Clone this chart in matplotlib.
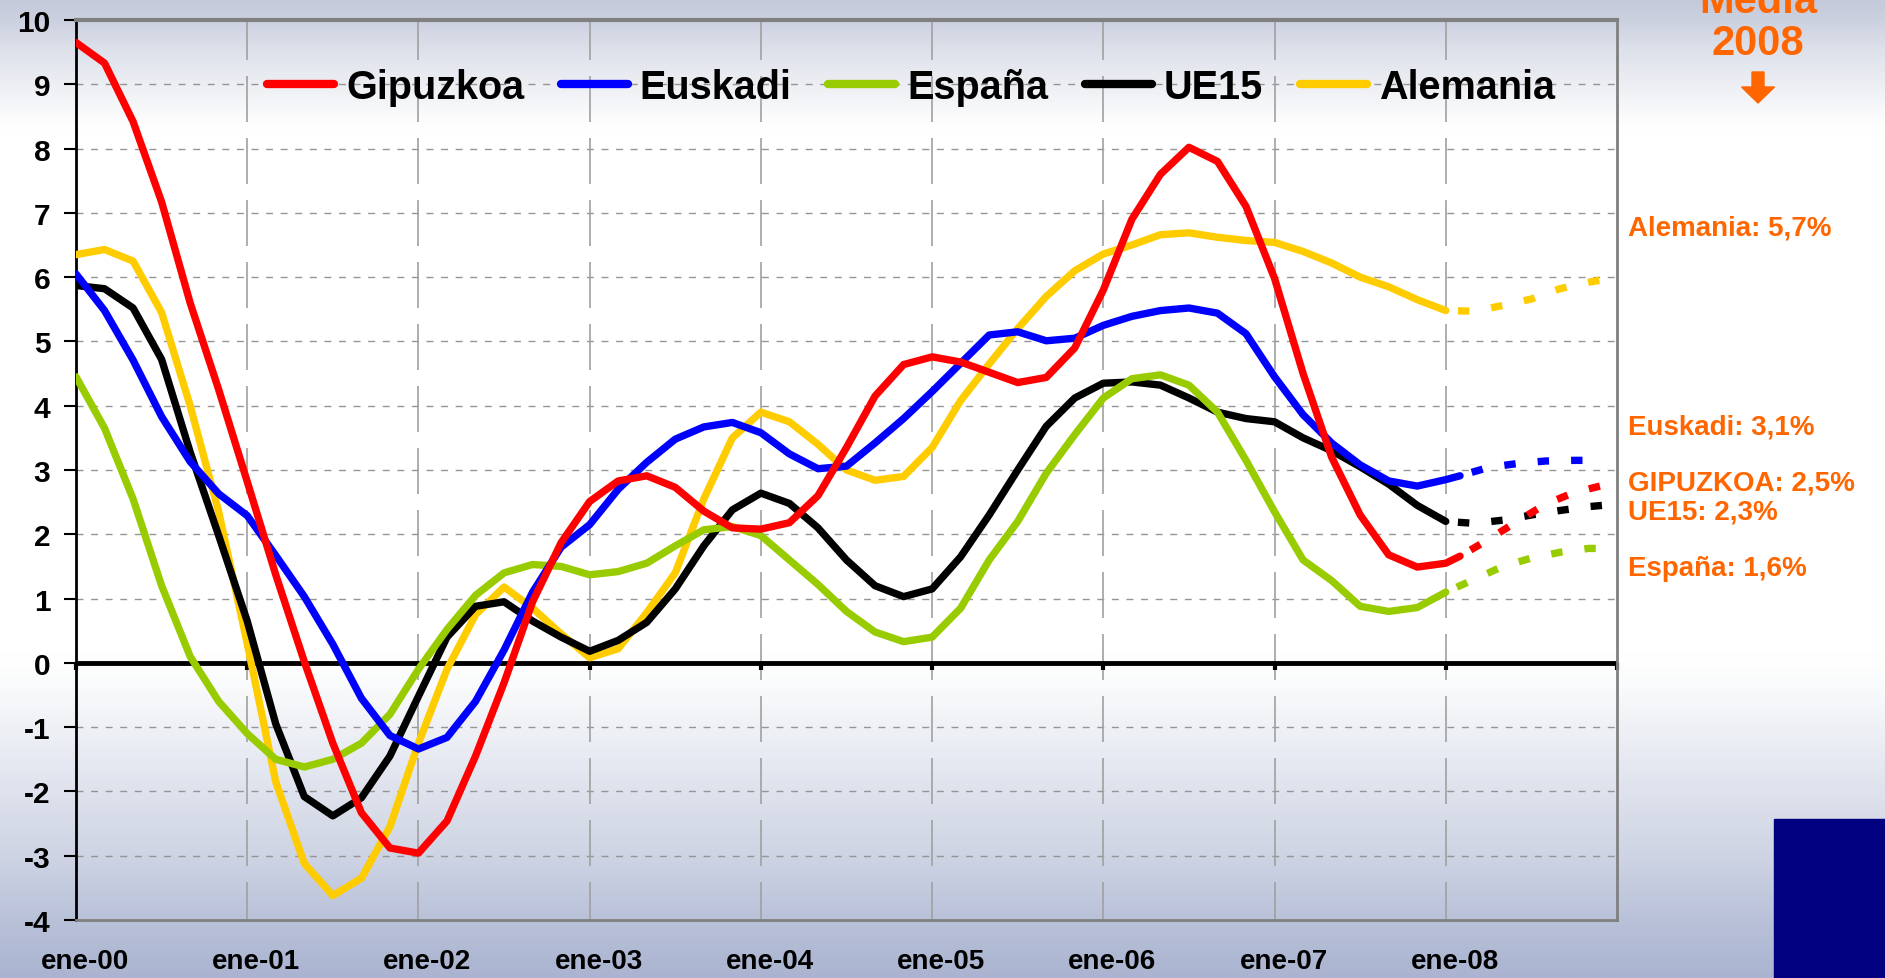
import numpy as np
import matplotlib.pyplot as plt
from matplotlib import markers
from matplotlib.colors import LinearSegmentedColormap
from matplotlib.patches import Rectangle, Polygon
from matplotlib.transforms import ScaledTranslation

plt.rcParams['font.family'] = ['Liberation Sans', 'DejaVu Sans']
plt.rcParams['font.weight'] = 'bold'
plt.rcParams['axes.unicode_minus'] = False

############################################################
# Datos (tasa de variación interanual, %), meses desde ene-00

meses = list(range(0, 97, 2))
meses_97 = meses + [97]

gipuzkoa = [9.65, 9.33, 8.42, 7.17, 5.6, 4.25, 2.82, 1.37, 0.02, -1.25,
            -2.33, -2.88, -2.96, -2.46, -1.45, -0.31, 0.95, 1.87, 2.51, 2.83,
            2.91, 2.73, 2.36, 2.1, 2.08, 2.18, 2.6, 3.35, 4.15, 4.64,
            4.76, 4.68, 4.52, 4.36, 4.44, 4.9, 5.8, 6.9, 7.6, 8.02,
            7.8, 7.1, 5.98, 4.5, 3.2, 2.3, 1.68, 1.49, 1.55, 1.66]
euskadi = [6.05, 5.48, 4.71, 3.83, 3.13, 2.63, 2.29, 1.67, 1.03, 0.29,
           -0.55, -1.13, -1.34, -1.16, -0.6, 0.2, 1.1, 1.8, 2.15, 2.7,
           3.12, 3.48, 3.67, 3.74, 3.58, 3.25, 3.02, 3.06, 3.42, 3.8,
           4.22, 4.66, 5.1, 5.15, 5.01, 5.05, 5.25, 5.39, 5.48, 5.52,
           5.44, 5.12, 4.45, 3.86, 3.42, 3.08, 2.83, 2.75, 2.85, 2.91]
espana = [4.45, 3.65, 2.55, 1.2, 0.1, -0.6, -1.1, -1.5, -1.62, -1.5,
          -1.25, -0.8, -0.1, 0.52, 1.05, 1.4, 1.53, 1.5, 1.37, 1.42,
          1.55, 1.82, 2.07, 2.12, 1.98, 1.6, 1.22, 0.8, 0.48, 0.33,
          0.4, 0.85, 1.6, 2.2, 2.95, 3.55, 4.12, 4.42, 4.48, 4.32,
          3.9, 3.15, 2.35, 1.6, 1.28, 0.88, 0.8, 0.86, 1.1]
ue15 = [5.87, 5.82, 5.52, 4.72, 3.28, 1.98, 0.65, -0.95, -2.08, -2.38,
        -2.1, -1.45, -0.52, 0.4, 0.88, 0.95, 0.65, 0.4, 0.18, 0.35,
        0.63, 1.15, 1.82, 2.38, 2.64, 2.48, 2.1, 1.6, 1.2, 1.03,
        1.15, 1.65, 2.3, 3.0, 3.68, 4.12, 4.35, 4.37, 4.32, 4.12,
        3.9, 3.8, 3.75, 3.5, 3.3, 3.05, 2.78, 2.45, 2.2]
alemania = [6.35, 6.43, 6.25, 5.45, 4.0, 2.35, 0.3, -1.85, -3.12, -3.62,
            -3.35, -2.55, -1.25, -0.1, 0.75, 1.18, 0.85, 0.45, 0.08, 0.22,
            0.78, 1.4, 2.55, 3.5, 3.9, 3.75, 3.4, 3.0, 2.84, 2.9,
            3.35, 4.08, 4.65, 5.2, 5.7, 6.1, 6.36, 6.5, 6.66, 6.69,
            6.62, 6.57, 6.54, 6.4, 6.22, 6.0, 5.85, 5.65, 5.48]

# Previsiones 2008 (tramo discontinuo)
meses_prev_97 = [97, 99, 101, 103, 105, 107]
meses_prev = [96, 98, 100, 102, 104, 106, 107]
gipuzkoa_prev = [1.66, 1.92, 2.2, 2.47, 2.65, 2.76]
euskadi_prev = [2.91, 3.04, 3.1, 3.14, 3.15, 3.15]
espana_prev = [1.1, 1.3, 1.5, 1.63, 1.72, 1.78, 1.78]
ue15_prev = [2.2, 2.17, 2.22, 2.3, 2.37, 2.43, 2.45]
alemania_prev = [5.48, 5.47, 5.56, 5.66, 5.82, 5.92, 5.96]

anos_ticks = list(range(0, 109, 12))
anos_labels = ['ene-00', 'ene-01', 'ene-02', 'ene-03', 'ene-04',
               'ene-05', 'ene-06', 'ene-07', 'ene-08', '']

medias = ['Alemania: 5,7%', 'Euskadi: 3,1%', 'GIPUZKOA: 2,5%',
          'UE15: 2,3%', 'España: 1,6%']
medias_y = [6.77, 3.68, 2.81, 2.36, 1.47]

############################################################
# Figura

naranja = '#FF6600'
fig = plt.figure(figsize=(18.85, 9.79), dpi=100)

# fondo degradado (posición = fracción desde arriba)
bg = fig.add_axes([0, 0, 1, 1], zorder=-10)
cmap = LinearSegmentedColormap.from_list('fondo', [
    (0.0, '#c5cadb'), (0.02, '#ccd1e0'), (0.05, '#dde1ea'), (0.1, '#f3f4f7'),
    (0.13, '#ffffff'), (0.67, '#ffffff'), (0.7, '#fafbfc'), (0.78, '#e6e9f1'),
    (0.88, '#cdd3e3'), (0.94, '#bac2d9'), (1.0, '#aab4d0')])
grad = np.linspace(0, 1, 512).reshape(-1, 1)
bg.imshow(grad, aspect='auto', cmap=cmap, extent=[0, 1, 0, 1])
bg.axis('off')

ax = fig.add_axes([76 / 1885, 1 - 921 / 979, (1617 - 76) / 1885, (921 - 21) / 979])
ax.patch.set_alpha(0)
ax.set_xlim(0, 108)
ax.set_ylim(-4, 10)

# rejilla
for y in range(-3, 10):
    if y != 0:
        ax.axhline(y, color='#959595', lw=1, ls=(0, (5, 5.5)), zorder=1)
for x in anos_ticks[1:-1]:
    ax.axvline(x, color='#a0a0a0', lw=1.2, ls=(4.8, (27.6, 9.6)), zorder=1)
ax.axhline(0, color='black', lw=3.5, zorder=2)
ax.plot(anos_ticks, [0] * len(anos_ticks), ls='none', marker=markers.TICKDOWN,
        ms=5, mew=3, color='black', zorder=2, clip_on=False)

lw = 5.3
series = [
    ('Gipuzkoa', '#FF0000', meses_97, gipuzkoa, meses_prev_97, gipuzkoa_prev),
    ('Euskadi', '#0000FF', meses_97, euskadi, meses_prev_97, euskadi_prev),
    ('España', '#99CC00', meses, espana, meses_prev, espana_prev),
    ('UE15', '#000000', meses, ue15, meses_prev, ue15_prev),
    ('Alemania', '#FFCC00', meses, alemania, meses_prev, alemania_prev),
]
for i, (nombre, col, xm, ym, xp, yp) in enumerate(series):
    ax.plot(xm, ym, color=col, lw=lw, label=nombre, zorder=5 - i * 0.1,
            solid_capstyle='round', solid_joinstyle='round')
    ax.plot(xp, yp, color=col, lw=lw, ls=(2.9, (1.55, 3.0)),
            dash_capstyle='butt', zorder=5 - i * 0.1)

# ejes
for s in ['top', 'right', 'bottom']:
    ax.spines[s].set_color('#808080')
ax.spines['top'].set_linewidth(3)
ax.spines['right'].set_linewidth(2)
ax.spines['bottom'].set_linewidth(2)
ax.spines['left'].set_color('black')
ax.spines['left'].set_linewidth(2)

ax.set_yticks(range(-4, 11))
ax.tick_params(axis='y', direction='out', length=8.5, width=1.5, pad=10,
               labelsize=21.5)
ax.set_xticks(anos_ticks)
ax.set_xticklabels(anos_labels)
ax.tick_params(axis='x', length=0, pad=20, labelsize=20)
for lab in ax.get_xticklabels():
    lab.set_transform(lab.get_transform() + ScaledTranslation(0.09, 0, fig.dpi_scale_trans))
for lab in ax.get_xticklabels() + ax.get_yticklabels():
    lab.set_fontweight('bold')

leg = ax.legend(loc='center left', bbox_to_anchor=(267 / 1885, 1 - 88 / 979),
                bbox_transform=fig.transFigure, ncol=5, frameon=False,
                prop={'size': 28.5, 'weight': 'bold'}, handlelength=1.7,
                handletextpad=0.3, columnspacing=0.92, borderpad=0,
                borderaxespad=0)
for h in leg.get_lines():
    h.set_linewidth(6)
    h.set_solid_capstyle('round')

# medias 2008
for txt, y in zip(medias, medias_y):
    ax.text(108.8, y, txt, color=naranja, fontsize=20, fontweight='bold',
            va='center', ha='left', clip_on=False)

fig.text(1758 / 1885, 1 - 44 / 979, '2008', color=naranja, fontsize=30,
         fontweight='bold', ha='center', va='center')
fig.text(1758 / 1885, 1 - 2 / 979, 'Media', color=naranja, fontsize=30,
         fontweight='bold', ha='center', va='center')

# flecha
cx, y0 = 17.58, 9.79 - 0.73
flecha = Polygon([(cx - 0.06, y0), (cx + 0.06, y0), (cx + 0.06, y0 - 0.15),
                  (cx + 0.165, y0 - 0.15), (cx, y0 - 0.31), (cx - 0.165, y0 - 0.15),
                  (cx - 0.06, y0 - 0.15)], closed=True, color=naranja,
                 transform=fig.dpi_scale_trans)
fig.patches.append(flecha)

# recuadro azul
fig.patches.append(Rectangle((1774 / 1885, 0), 1 - 1774 / 1885, (979 - 820) / 979,
                             color='#000080', transform=fig.transFigure))

plt.savefig('out.png', dpi=100)
